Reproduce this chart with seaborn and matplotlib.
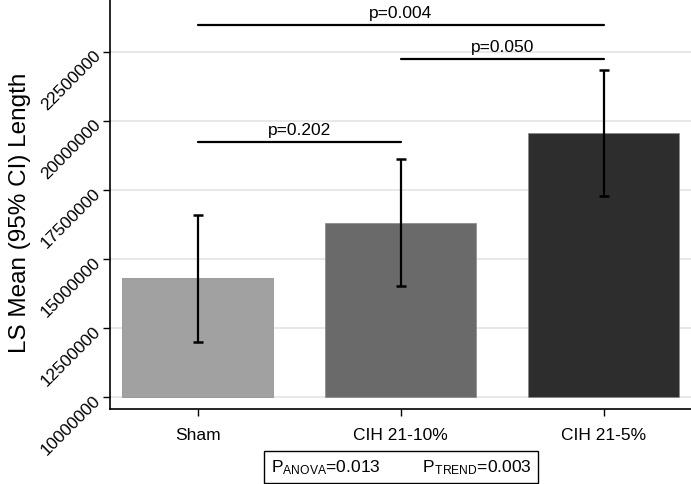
import seaborn as sns
import matplotlib.pyplot as plt
import numpy as np
import pandas as pd

# data
groups = ["Sham", "CIH 21-10%", "CIH 21-5%"]
ls_mean = [14310000, 16300000, 19570000]
ci_low = [12000000, 14020000, 17290000]
ci_high = [16600000, 18620000, 21850000]
bar_colors = ["#a1a1a1", "#6a6a6a", "#2d2d2d"]

# pairwise comparisons: (group a, group b, line height, label)
pairs = [(0, 1, 19250000, "p=0.202"),
         (1, 2, 22250000, "p=0.050"),
         (0, 2, 23490000, "p=0.004")]
p_anova = "0.013"
p_trend = "0.003"

baseline = 10000000
yticks = [10000000, 12500000, 15000000, 17500000, 20000000, 22500000]

sns.set_theme(style="white")
plt.rcParams['font.family'] = ['Liberation Sans', 'DejaVu Sans']
plt.rcParams['mathtext.fontset'] = 'custom'
plt.rcParams['mathtext.rm'] = 'Liberation Sans'
plt.rcParams['mathtext.it'] = 'Liberation Sans'
plt.rcParams['text.color'] = 'black'
plt.rcParams['axes.labelcolor'] = 'black'
plt.rcParams['xtick.color'] = 'black'
plt.rcParams['ytick.color'] = 'black'

df = pd.DataFrame({"group": groups, "mean": ls_mean})

fig = plt.figure(figsize=(6.91, 4.85), dpi=100)
ax = fig.add_axes([0.159, 0.155, 0.841, 0.845])

sns.barplot(data=df, x="group", y="mean", hue="group", palette=bar_colors,
            errorbar=None, width=0.745, legend=False, ax=ax,
            edgecolor="#888888", linewidth=0.5, zorder=2)

# bars start at the 10,000,000 baseline
for patch, m in zip(ax.patches, ls_mean):
    patch.set_y(baseline)
    patch.set_height(m - baseline)

x = np.arange(len(groups))
m = np.array(ls_mean)
yerr = [m - np.array(ci_low), np.array(ci_high) - m]
ax.errorbar(x, m, yerr=yerr, fmt="none", ecolor="black", elinewidth=1.6,
            capsize=3.5, capthick=1.8, zorder=3)

for a, b, h, lab in pairs:
    ax.plot([a, b], [h, h], color="black", lw=1.6, zorder=3)
    ax.text((a + b) / 2, h + 170000, lab, ha="center", va="bottom",
            fontsize=12.5, color="black")

ax.set_xlim(-0.433, 2.43)
ax.set_ylim(9565000, 24420000)
ax.set_yticks(yticks)
ax.set_yticklabels([str(t) for t in yticks], rotation=45, ha="right",
                   va="center", rotation_mode="anchor", fontsize=12.5)
ax.tick_params(axis="x", labelsize=12.5, pad=8)
ax.tick_params(axis="both", direction="out", length=5, width=1, color="black",
               left=True, bottom=True)
ax.yaxis.grid(True, color="#e8e8e8", lw=1.4, zorder=0)
ax.set_axisbelow(True)
ax.set_xlabel("")
ax.set_ylabel("LS Mean (95% CI) Length", fontsize=17.5, labelpad=4)
ax.yaxis.set_label_coords(-0.135, 0.48)

for s in ["top", "right"]:
    ax.spines[s].set_visible(False)
for s in ["left", "bottom"]:
    ax.spines[s].set_color("black")
    ax.spines[s].set_linewidth(1.2)

fig.text(0.581, 0.035, r"P$_{\mathrm{ANOVA}}$=" + p_anova + "         " +
         r"P$_{\mathrm{TREND}}$=" + p_trend, ha="center", va="center",
         fontsize=12.5,
         bbox=dict(boxstyle="square,pad=0.38", fc="white", ec="black", lw=1))

fig.savefig("out.png", dpi=100)
